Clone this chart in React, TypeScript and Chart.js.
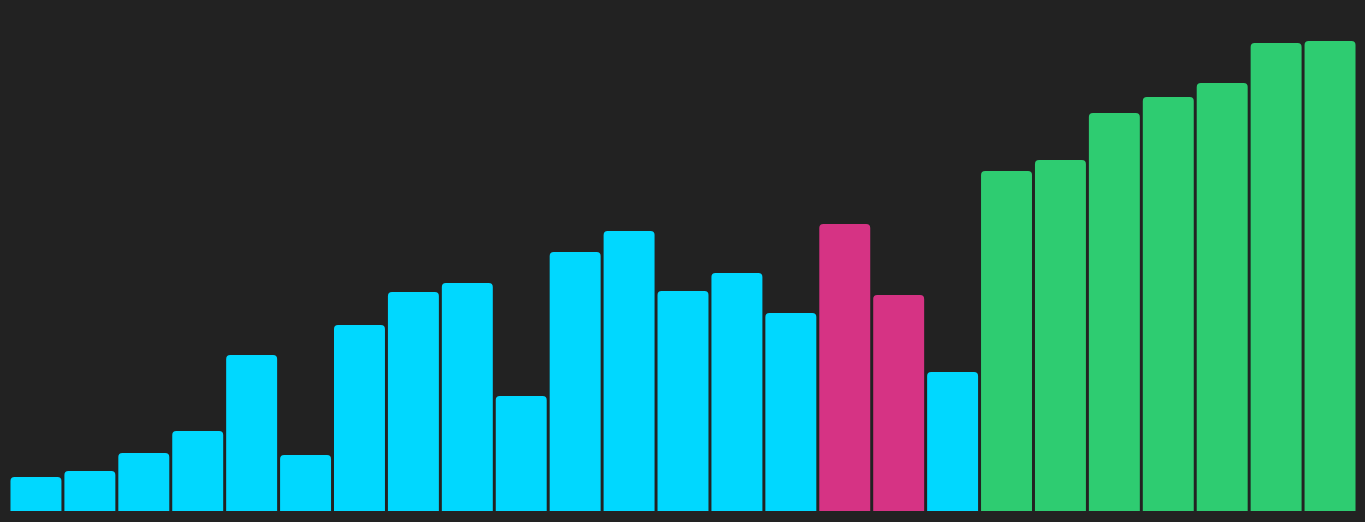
import React, { useEffect, useRef } from "react";
import { Chart, registerables } from "chart.js";

Chart.register(...registerables);

const categories = [
  "1", "2", "3", "4", "5", "6", "7", "8", "9", "10", "11", "12", "13",
  "14", "15", "16", "17", "18", "19", "20", "21", "22", "23", "24", "25",
];

const values = [
  34, 40, 58, 80, 156, 56, 186, 219, 228, 115, 259, 280, 220, 238, 198,
  287, 216, 139, 340, 351, 398, 414, 428, 468, 470,
];

const groups = [
  "a", "a", "a", "a", "a", "a", "a", "a", "a", "a", "a", "a", "a", "a", "a",
  "b", "b", "a", "c", "c", "c", "c", "c", "c", "c",
];

const groupColors: Record<string, string> = {
  a: "#00d8ff",
  b: "#d63384",
  c: "#2ecc71",
};

const yMax = 500;

export default function App() {
  const ref = useRef<HTMLCanvasElement | null>(null);

  useEffect(() => {
    document.documentElement.style.background = "#222222";
    document.documentElement.style.overflow = "hidden";
    document.body.style.margin = "0";
    document.body.style.background = "#222222";
    if (!ref.current) return;
    const chart = new Chart(ref.current, {
      type: "bar",
      data: {
        labels: categories,
        datasets: [
          {
            data: values,
            backgroundColor: groups.map((g) => groupColors[g]),
            borderRadius: 4,
            borderWidth: 0,
            barPercentage: 0.945,
            categoryPercentage: 1,
          },
        ],
      },
      options: {
        animation: false,
        responsive: true,
        maintainAspectRatio: false,
        layout: { padding: { left: 9, right: 8, top: 11, bottom: 11 } },
        plugins: {
          legend: { display: false },
          tooltip: { enabled: false },
        },
        scales: {
          x: { display: false },
          y: { display: false, min: 0, max: yMax },
        },
      },
    });
    return () => chart.destroy();
  }, []);

  return (
    <div style={{ width: "100%", height: "522px", background: "#222222" }}>
      <canvas ref={ref} />
    </div>
  );
}
